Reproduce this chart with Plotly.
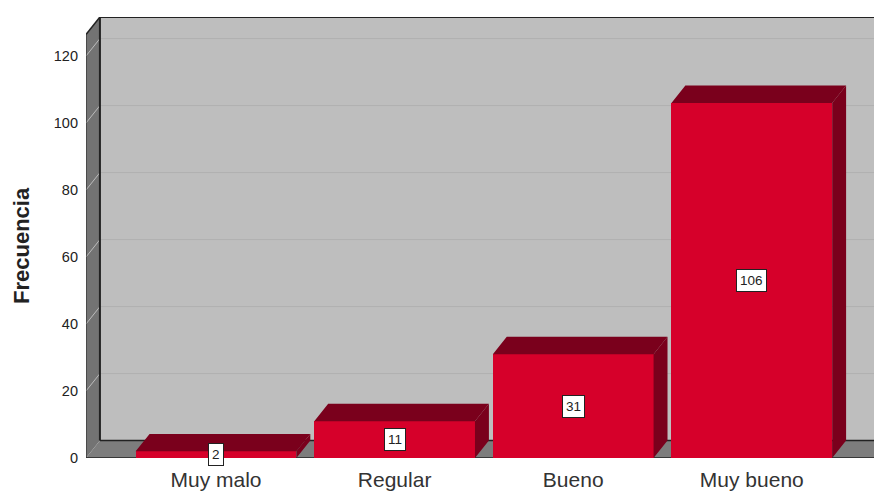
import plotly.graph_objects as go

categories = ["Muy malo", "Regular", "Bueno", "Muy bueno"]
frequencies = [2, 11, 31, 106]
y_ticks = [0, 20, 40, 60, 80, 100, 120]

BAR_W = 0.90
DX = 0.078
DY = 5.2
X0, X1 = -0.728, 3.729
Y1 = 131.64
xs = list(range(len(categories)))
WALL = X0 + DX

tops_x, tops_y, side_x, side_y = [], [], [], []
for x, v in zip(xs, frequencies):
    l, r = x - BAR_W / 2, x + BAR_W / 2
    tops_x += [l, l + DX, r + DX, r, l, None]
    tops_y += [v, v + DY, v + DY, v, v, None]
    side_x += [r, r + DX, r + DX, r, r, None]
    side_y += [0, DY, v + DY, v, 0, None]

shapes = [
    dict(type="rect", xref="x", yref="y", x0=WALL, x1=X1 + 0.1, y0=DY, y1=Y1,
         fillcolor="#bebebe", line=dict(width=0), layer="below"),
    dict(type="path", xref="x", yref="y",
         path=f"M{X0},0 L{WALL},{DY} L{WALL},{Y1} L{X0},{Y1 - DY} Z",
         fillcolor="#737373", line=dict(width=0), layer="below"),
    dict(type="path", xref="x", yref="y",
         path=f"M{X0},0 L{WALL},{DY} L{X1 + 0.1},{DY} L{X1 + 0.1},0 Z",
         fillcolor="#7d7d7d", line=dict(width=0), layer="below"),
]
for t in y_ticks[1:]:
    shapes.append(dict(type="line", xref="x", yref="y", x0=WALL, x1=X1 + 0.1, y0=t + DY, y1=t + DY,
                       line=dict(color="#b0b0b0", width=1), layer="below"))
    shapes.append(dict(type="line", xref="x", yref="y", x0=X0, x1=WALL, y0=t, y1=t + DY,
                       line=dict(color="#bcbcbc", width=1), layer="below"))
for a, b, c, d, w in [(WALL, X1 + 0.1, Y1, Y1, 2), (WALL, WALL, DY, Y1, 2), (WALL, X1 + 0.1, DY, DY, 1.5),
                      (X0, WALL, Y1 - DY, Y1, 1.5), (X0, X0, 0, Y1 - DY, 1)]:
    shapes.append(dict(type="line", xref="x", yref="y", x0=a, x1=b, y0=c, y1=d,
                       line=dict(color="#222222", width=w), layer="below"))
shapes.append(dict(type="line", xref="x", yref="y", x0=X0, x1=X1 + 0.1, y0=0, y1=0,
                   line=dict(color="#222222", width=1.5), layer="below"))

fig = go.Figure()
fig.add_trace(go.Bar(x=xs, y=frequencies, width=BAR_W, marker=dict(color="#d6002a", line=dict(width=0)),
                     hoverinfo="x+y"))
fig.add_trace(go.Scatter(x=tops_x, y=tops_y, mode="lines", fill="toself", fillcolor="#7a001c",
                         line=dict(width=0), hoverinfo="skip"))
fig.add_trace(go.Scatter(x=side_x, y=side_y, mode="lines", fill="toself", fillcolor="#7a001c",
                         line=dict(width=0), hoverinfo="skip"))

annotations = [
    dict(x=x, y=v / 2, xref="x", yref="y", text=str(v), showarrow=False,
         font=dict(family="Liberation Sans, Arial", size=13.5, color="#222222"),
         bgcolor="white", bordercolor="#222222", borderwidth=1, borderpad=3)
    for x, v in zip(xs, frequencies)
]
annotations.append(dict(x=0, y=0.5, xref="paper", yref="paper", xshift=-79, yshift=-8,
                        text="<b>Frecuencia</b>", textangle=-90, showarrow=False,
                        font=dict(family="Liberation Sans, Arial", size=22, color="#222222")))

# The page adds an 8 px body margin, so the figure is sized and inset to land on the 882x491 frame.
fig.update_layout(
    width=874, height=483, autosize=False,
    margin=dict(l=78, r=0, t=9, b=33),
    paper_bgcolor="white", plot_bgcolor="rgba(0,0,0,0)",
    showlegend=False, shapes=shapes, annotations=annotations, bargap=0,
    font=dict(family="Liberation Sans, Arial", color="#333333"),
    xaxis=dict(range=[X0, X1], tickvals=xs, ticktext=categories, showgrid=False, zeroline=False,
               showline=False, ticks="", tickfont=dict(size=21, color="#333333"), ticklabelstandoff=7),
    yaxis=dict(range=[0, Y1], tickvals=y_ticks, showgrid=False, zeroline=False, showline=False,
               ticks="", tickfont=dict(size=14.5, color="#222222"), ticklabelstandoff=7),
)
fig.write_html("out.html")
